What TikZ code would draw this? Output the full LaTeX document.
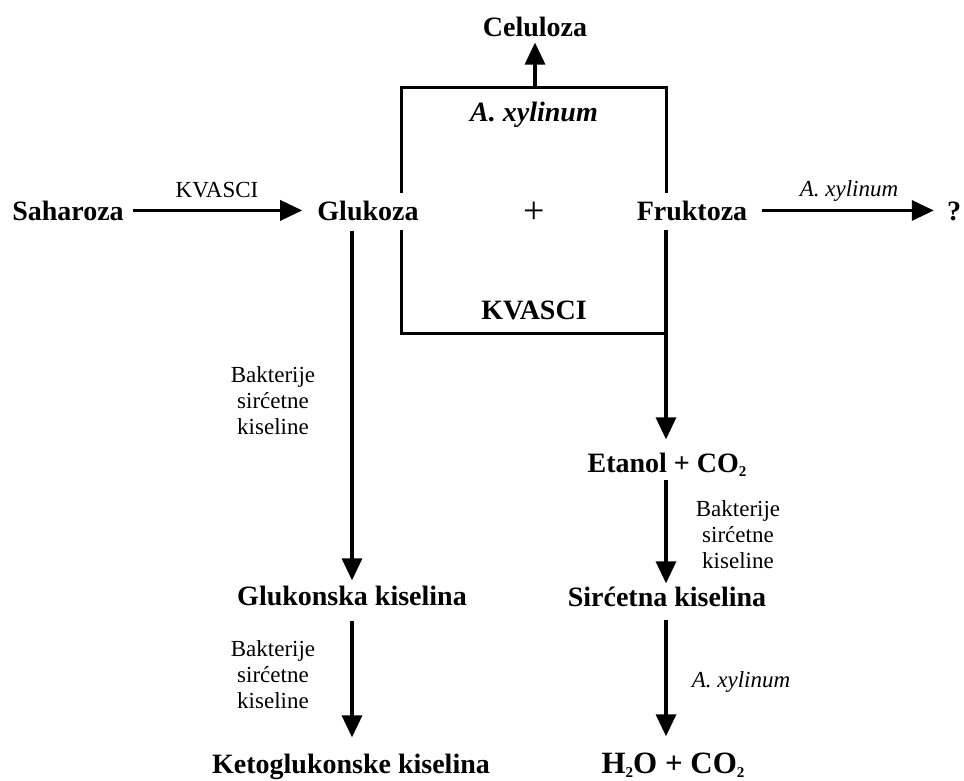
\documentclass[tikz,border=0pt]{standalone}
\usepackage{fontspec}
\setmainfont{Liberation Serif}
\usetikzlibrary{arrows.meta}
\newcommand{\lowtwo}{\raisebox{-0.32ex}{\fontsize{15}{15}\selectfont 2}}
\begin{document}
\begin{tikzpicture}[x=1pt,y=-1pt,
  main/.style={font=\fontsize{28}{30}\selectfont\bfseries, inner sep=0pt, anchor=base},
  lab/.style={font=\fontsize{23}{26}\selectfont, inner sep=0pt, anchor=base},
  lablines/.style={font=\fontsize{23}{26}\selectfont, inner sep=0pt, anchor=north, align=center},
  ln/.style={line width=3pt},
  arr/.style={line width=3.3pt, -{Triangle[length=22pt,width=20pt]}}]
\useasboundingbox (0,0) rectangle (964,780);
% main substances
\node[main] (cel) at (535,36) {Celuloza};
\node[main] (sah) at (68,220) {Saharoza};
\node[main] (glu) at (368,220) {Glukoza};
\node[font=\fontsize{38}{40}\selectfont, inner sep=0pt, anchor=base] (plus) at (534,223) {+};
\node[main] (fru) at (692,220) {Fruktoza};
\node[main] (q) at (954,220) {?};
\node[main] (eta) at (667,472) {Etanol + CO\lowtwo};
\node[main] (gks) at (352,605) {Glukonska kiselina};
\node[main] (sks) at (667,606) {Sirćetna kiselina};
\node[main] (kks) at (351,773) {Ketoglukonske kiselina};
\node[main, font=\fontsize{31}{33}\selectfont\bfseries] (hco) at (673,773) {H\lowtwo O + CO\lowtwo};
% labels
\node[lab] (l1) at (217,197) {KVASCI};
\node[lab, font=\fontsize{23}{26}\selectfont\itshape] (l2) at (849,196) {A. xylinum};
\node[main, font=\fontsize{28}{30}\selectfont\bfseries\itshape] (l3) at (534,121) {A. xylinum};
\node[main] (l4) at (534,319) {KVASCI};
\node[lab, font=\fontsize{23}{26}\selectfont\itshape] (l5) at (741,687) {A. xylinum};
\node[lablines] (b1) at (273,366) {Bakterije\\sirćetne\\kiseline};
\node[lablines] (b2) at (738,500) {Bakterije\\sirćetne\\kiseline};
\node[lablines] (b3) at (273,640) {Bakterije\\sirćetne\\kiseline};
% box corners
\coordinate (tl) at (401,87);
\coordinate (tr) at (666,87);
\coordinate (bl) at (401,333);
\coordinate (br) at (666,333);
\coordinate (lu) at (401,193);
\coordinate (ru) at (666,193);
\coordinate (ld) at (401,230);
\coordinate (rd) at (666,230);
\draw[ln] (lu) -- (tl) -- (tr) -- (ru);
\draw[ln] (ld) -- (bl) -- (br);
% arrows
\draw[arr, shorten >=6pt] (cel.south |- tl) -- (cel.south);
\draw[arr, shorten <=9pt, shorten >=15pt] (sah.east) -- (sah.east -| glu.west);
\draw[arr, shorten <=15pt, shorten >=13pt] (fru.east) -- (fru.east -| q.west);
\draw[arr, shorten >=13pt] (rd) -- (rd |- eta.north);
\draw[arr, shorten <=10pt, shorten >=5pt] (gks.north |- glu.south) -- (gks.north);
\draw[arr, shorten <=15pt, shorten >=16pt] (gks.south) -- (gks.south |- kks.north);
\draw[arr, shorten <=4pt, shorten >=3pt] (eta.south -| rd) -- (sks.north -| rd);
\draw[arr, shorten <=14pt, shorten >=16pt] (sks.south -| rd) -- (hco.north -| rd);
\end{tikzpicture}
\end{document}
